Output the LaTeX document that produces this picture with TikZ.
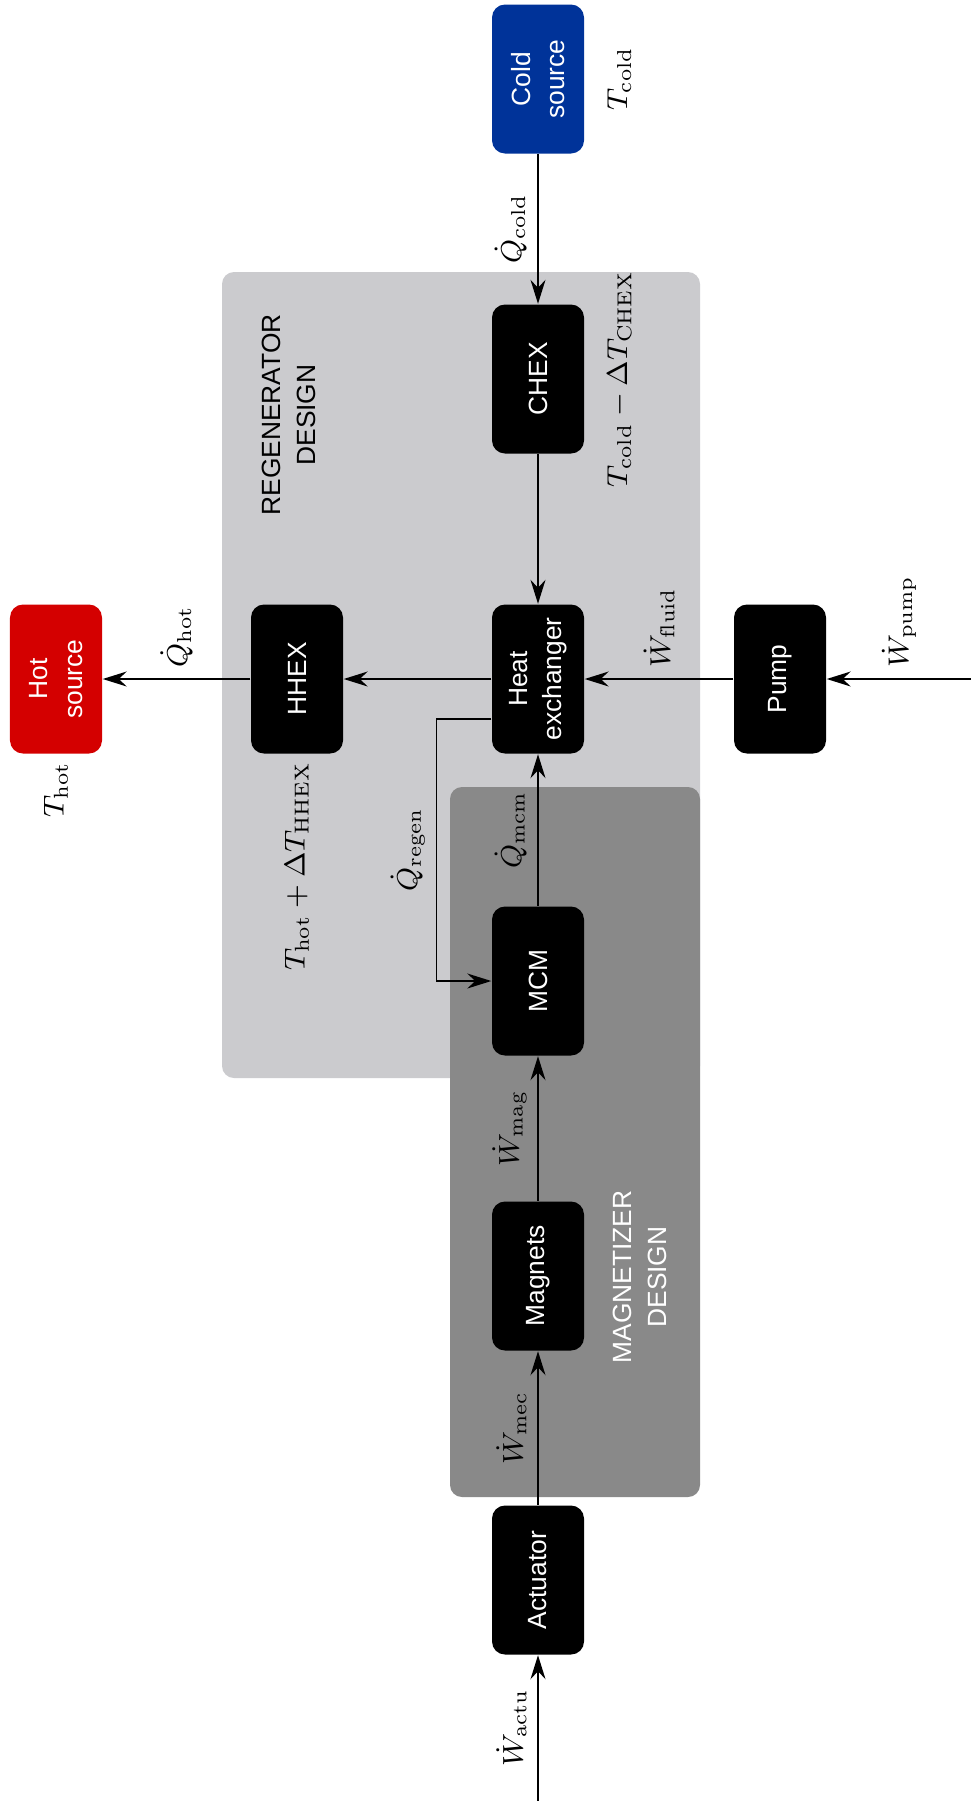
\RequirePackage{fix-cm}
\documentclass[tikz,border=0pt]{standalone}
\usepackage{fontspec}
\setsansfont{Liberation Sans}
\usetikzlibrary{arrows.meta, backgrounds}
\definecolor{hotred}{RGB}{212,0,0}
\definecolor{coldblue}{RGB}{0,51,153}
\definecolor{regengrey}{RGB}{203,203,206}
\definecolor{magngrey}{RGB}{137,137,137}
\newcommand{\Qd}[1]{\dot{Q}_{\mathrm{#1}}}
\newcommand{\Wd}[1]{\dot{W}_{\mathrm{#1}}}

\begin{document}
\begin{tikzpicture}[
  blk/.style={rotate=90, fill=black, text=white, rounded corners=1.3mm,
              minimum width=14.9mm, minimum height=9.2mm, align=center, inner sep=1mm,
              font=\sffamily\fontsize{7.5}{9.8}\selectfont},
  hotblk/.style={blk, fill=hotred},
  coldblk/.style={blk, fill=coldblue},
  flow/.style={rotate=90, inner sep=3pt, font=\fontsize{8.2}{10}\selectfont},
  temp/.style={flow, inner sep=2pt},
  zone/.style={rotate=90, align=center, font=\sffamily\fontsize{7.5}{9.8}\selectfont},
  arr/.style={-{Stealth[length=2.4mm, width=1.5mm, inset=0.8mm]}, line width=0.45pt}
]
\useasboundingbox (0,0) rectangle (9.71,-18.01);

% main axis, top to bottom
\node[coldblk] (cold) at (5.38,-0.79) {Cold\\source};
\node[blk] (chex) at (5.38,-3.79) {CHEX};
\node[blk] (hex) at (5.38,-6.79) {Heat\\exchanger};
\node[blk] (mcm) at (5.38,-9.81) {MCM};
\node[blk] (mag) at (5.38,-12.76) {Magnets};
\node[blk] (act) at (5.38,-15.80) {Actuator};
% side row
\node[blk] (hhex) at (2.97,-6.79) {HHEX};
\node[hotblk] (hot) at (0.56,-6.79) {Hot\\source};
\node[blk] (pump) at (7.80,-6.79) {Pump};

\coordinate (pumpin) at (9.71,-6.79);
\coordinate (actin) at (5.38,-18.01);

% temperatures
\node[temp, anchor=north] (tcold) at ([xshift=1.5mm]cold.south) {$T_{\mathrm{cold}}$};
\node[temp, anchor=north] (tchex) at ([xshift=1.5mm]chex.south) {$T_{\mathrm{cold}} - \Delta T_{\mathrm{CHEX}}$};
\node[temp, anchor=east] (thot) at (hot.west) {$T_{\mathrm{hot}}$};
\node[temp, anchor=east] (thhex) at (hhex.west) {$T_{\mathrm{hot}} + \Delta T_{\mathrm{HHEX}}$};

% zone titles
\node[zone] (regenlbl) at (2.89,-4.15) {REGENERATOR\\DESIGN};
\node[zone, text=white] (magnlbl) at (6.40,-12.77) {MAGNETIZER\\DESIGN};

% flows
\draw[arr] (cold) -- node[flow, anchor=south] (qcold) {$\Qd{cold}$} (chex);
\draw[arr] (chex) -- (hex);
\draw[arr] (pumpin) -- node[flow, anchor=west] (wpump) {$\Wd{pump}$} (pump);
\draw[arr] (pump) -- node[flow, anchor=west] (wfluid) {$\Wd{fluid}$} (hex);
\draw[arr] (hex) -- (hhex);
\draw[arr] (hhex) -- node[flow, anchor=west] (qhot) {$\Qd{hot}$} (hot);
\draw[arr] (mcm) -- node[flow, anchor=south] (qmcm) {$\Qd{mcm}$} (hex);
\draw[arr] (mag) -- node[flow, anchor=south] (wmag) {$\Wd{mag}$} (mcm);
\draw[arr] (act) -- node[flow, anchor=south] (wmec) {$\Wd{mec}$} (mag);
\draw[arr] (actin) -- node[flow, anchor=south] (wactu) {$\Wd{actu}$} (act);
\draw[arr] ([yshift=-4mm]hex.north) -- ++(-0.55,0)
  |- node[flow, pos=0.25, anchor=south] (qregen) {$\Qd{regen}$} (mcm.north);

\begin{scope}[on background layer]
  \fill[regengrey, rounded corners=1.2mm] (2.22,-2.72) rectangle (7.00,-10.78);
  \fill[magngrey, rounded corners=1.2mm] (4.50,-7.87) rectangle (7.00,-14.97);
\end{scope}

\end{tikzpicture}
\end{document}
